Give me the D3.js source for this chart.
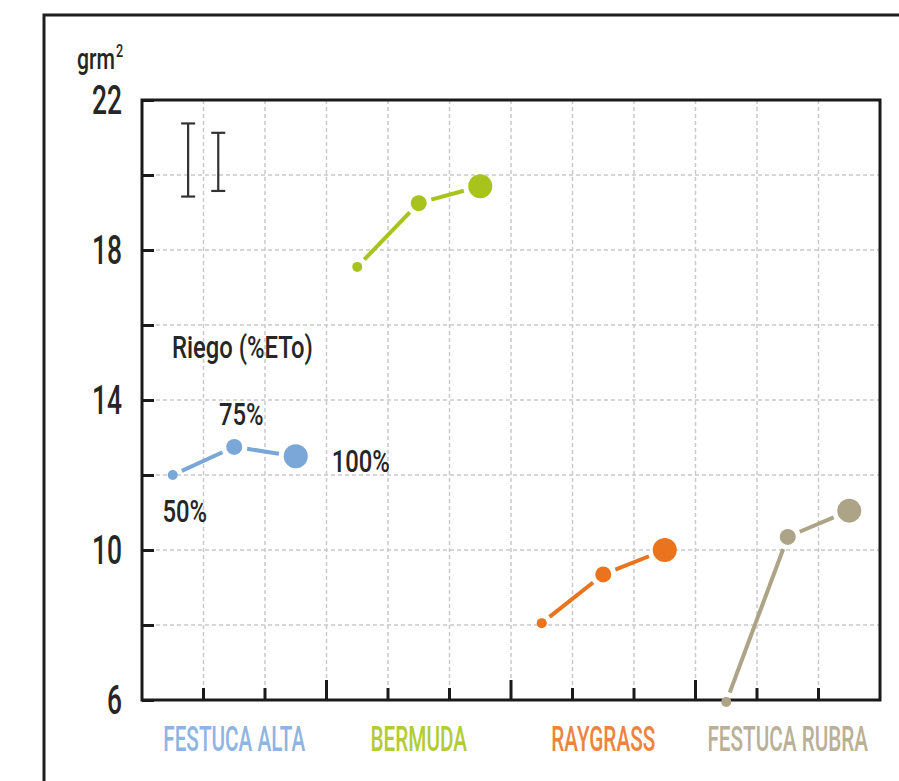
<!DOCTYPE html>
<html>
<head>
<meta charset="utf-8">
<script src="https://cdn.jsdelivr.net/npm/d3@7"></script>
<style>
  html, body { margin: 0; padding: 0; background: #fff; }
  svg { display: block; }
  text { font-family: "Roboto", "Noto Sans", "DejaVu Sans", sans-serif; font-weight: 500; }
</style>
</head>
<body>
<svg id="chart" width="899" height="781"></svg>
<script>
// Species (groups) and irrigation levels (% ETo)
const groups = ["FESTUCA ALTA", "BERMUDA", "RAYGRASS", "FESTUCA RUBRA"];
const riego = ["50%", "75%", "100%"];

// Dry matter yield, g/m², for each irrigation level
const festucaAlta  = [12.0, 12.75, 12.5];
const bermuda      = [17.55, 19.25, 19.7];
const raygrass     = [8.05, 9.35, 10.0];
const festucaRubra = [5.95, 10.35, 11.05];

// Y axis ticks
const yTickValues = [6, 8, 10, 12, 14, 16, 18, 20, 22];
const yTickLabels = [6, 10, 14, 18, 22];

// Least significant difference bars (centre, full length)
const lsdCentres = [20.4, 20.35];
const lsdLengths = [1.95, 1.55];

const colors      = ["#7aa7d8", "#a9c31d", "#e9741d", "#ada487"];
const labelColors = ["#8db5e2", "#b3cb35", "#ec8440", "#b9b096"];
const radii = [5, 8, 12];

const series = [festucaAlta, bermuda, raygrass, festucaRubra];

const svg = d3.select("#chart");
const plot = { left: 142, right: 880, top: 100, bottom: 700 };

// one slot per species × irrigation level
const slots = [];
groups.forEach(g => riego.forEach(r => slots.push(g + "|" + r)));

const x = d3.scaleBand().domain(slots).range([plot.left, plot.right]).paddingInner(0).paddingOuter(0);
const y = d3.scaleLinear().domain([6, 22]).range([plot.bottom, plot.top]);
const step = x.step();
const cx = (g, r) => x(g + "|" + r) + x.bandwidth() / 2;

// outer frame
svg.append("rect")
  .attr("x", 44).attr("y", 15).attr("width", 900).attr("height", 800)
  .attr("fill", "none").attr("stroke", "#1f1f1f").attr("stroke-width", 3);

// grid
const grid = svg.append("g").attr("stroke", "#c9c9c9").attr("stroke-width", 1.5)
  .attr("stroke-dasharray", "4,3");
grid.selectAll("line.h").data(yTickValues.filter(v => v > 6 && v < 22)).join("line")
  .attr("x1", plot.left).attr("x2", plot.right)
  .attr("y1", d => y(d)).attr("y2", d => y(d));
grid.selectAll("line.v").data(slots.slice(1)).join("line")
  .attr("x1", d => x(d)).attr("x2", d => x(d))
  .attr("y1", plot.top).attr("y2", plot.bottom);

// left axis ticks point inward
const yAxis = d3.axisLeft(y).tickValues(yTickValues).tickSize(-12).tickFormat("");
svg.append("g").attr("transform", `translate(${plot.left},0)`).call(yAxis)
  .call(g => g.select(".domain").remove())
  .call(g => g.selectAll(".tick line").attr("stroke", "#1a1a1a").attr("stroke-width", 3));

// bottom ticks point upward, longer between species
svg.append("g").selectAll("line").data(slots.slice(1)).join("line")
  .attr("x1", d => x(d)).attr("x2", d => x(d))
  .attr("y1", plot.bottom)
  .attr("y2", (d, i) => plot.bottom - ((i + 1) % 3 === 0 ? 20 : 12))
  .attr("stroke", "#1a1a1a").attr("stroke-width", 3);

// plot border
svg.append("rect")
  .attr("x", plot.left).attr("y", plot.top)
  .attr("width", plot.right - plot.left).attr("height", plot.bottom - plot.top)
  .attr("fill", "none").attr("stroke", "#1a1a1a").attr("stroke-width", 3);

// condensed text: horizontal squeeze so that a sample string fits a given width
function squeeze(sample, size, width) {
  const t = svg.append("text").attr("font-size", size).text(sample);
  const w = t.node().getComputedTextLength();
  t.remove();
  return width / w;
}
function narrowText(parent, tx, ty, str, size, sx, anchor, fill) {
  return parent.append("text")
    .attr("transform", `translate(${tx},${ty}) scale(${sx},1)`)
    .attr("text-anchor", anchor)
    .attr("font-size", size)
    .attr("fill", fill)
    .text(str);
}

const ink = "#262626";

// y tick labels
const sxY = squeeze("22", 40, 30);
yTickLabels.forEach(v => narrowText(svg, 122, y(v) + 14, v, 40, sxY, "end", ink));

// unit label
const sxU = squeeze("grm", 30, 38);
narrowText(svg, 77, 69, "grm", 30, sxU, "start", ink);
narrowText(svg, 116, 57, "2", 18, sxU, "start", ink);

// LSD bars
const lsd = svg.append("g").attr("stroke", "#333").attr("stroke-width", 2.2);
const lsdX = [x(slots[0]) + step * 0.75, x(slots[0]) + step * 1.24];
lsdCentres.forEach((c, i) => {
  const y1 = y(c + lsdLengths[i] / 2), y2 = y(c - lsdLengths[i] / 2);
  lsd.append("line").attr("x1", lsdX[i]).attr("x2", lsdX[i]).attr("y1", y1).attr("y2", y2);
  lsd.append("line").attr("x1", lsdX[i] - 7).attr("x2", lsdX[i] + 7).attr("y1", y1).attr("y2", y1);
  lsd.append("line").attr("x1", lsdX[i] - 7).attr("x2", lsdX[i] + 7).attr("y1", y2).attr("y2", y2);
});

// series: segments shortened near each dot, then the dots
series.forEach((vals, gi) => {
  const g = svg.append("g");
  const pts = vals.map((v, ri) => ({ x: cx(groups[gi], riego[ri]), y: y(v), r: radii[ri] }));
  for (let i = 0; i < pts.length - 1; i++) {
    const a = pts[i], b = pts[i + 1];
    const dx = b.x - a.x, dy = b.y - a.y, len = Math.hypot(dx, dy);
    const ua = (a.r + 5) / len, ub = (b.r + 5) / len;
    g.append("line")
      .attr("x1", a.x + dx * ua).attr("y1", a.y + dy * ua)
      .attr("x2", b.x - dx * ub).attr("y2", b.y - dy * ub)
      .attr("stroke", colors[gi]).attr("stroke-width", 4);
  }
  g.selectAll("circle").data(pts).join("circle")
    .attr("cx", d => d.x).attr("cy", d => d.y).attr("r", d => d.r)
    .attr("fill", colors[gi]);
});

// legend for irrigation level, placed by the Festuca alta dots
const sxL = squeeze("Riego (%ETo)", 32, 141);
narrowText(svg, 172, 358, "Riego (%ETo)", 32, sxL, "start", ink);
const fa = riego.map((r, i) => ({ x: cx(groups[0], r), y: y(festucaAlta[i]) }));
narrowText(svg, fa[1].x + 7, fa[1].y - 22, riego[1], 32, sxL, "middle", ink);
narrowText(svg, fa[2].x + 36, fa[2].y + 16, riego[2], 32, sxL, "start", ink);
narrowText(svg, fa[0].x + 12, fa[0].y + 47, riego[0], 32, sxL, "middle", ink);

// species labels
const sxX = squeeze("FESTUCA ALTA", 35, 142);
groups.forEach((g, i) => {
  const mid = x(g + "|" + riego[1]) + x.bandwidth() / 2;
  narrowText(svg, mid, 751, g, 35, sxX, "middle", labelColors[i]);
});
</script>
</body>
</html>
